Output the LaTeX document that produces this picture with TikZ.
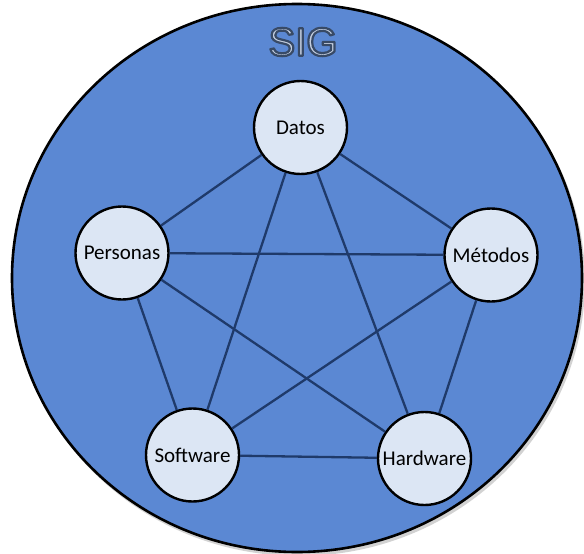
\documentclass[tikz,border=0pt]{standalone}
\usepackage{fontspec}
\setmainfont{Carlito}
\newfontfamily\sigfont{Liberation Sans}
\definecolor{bigfill}{HTML}{5B88D3}
\definecolor{nodefill}{HTML}{DCE6F4}
\definecolor{linkcol}{HTML}{1F3A6A}
\definecolor{siglight}{HTML}{C4CEDF}
\tikzset{
  comp/.style={circle, draw=black, line width=2.4pt, fill=nodefill,
    minimum size=93pt, inner sep=0pt, font=\fontsize{21}{24}\selectfont},
  link/.style={draw=linkcol, line width=2.3pt},
  outer/.style={draw=black, line width=2.6pt, fill=bigfill}
}
\newcommand{\outlinedtext}[1]{{\color{siglight}\special{pdf:literal 0.22 0.29 0.40 RG 2.2 w 1 j 2 Tr}#1\special{pdf:literal 0 Tr}}}
\begin{document}
\begin{tikzpicture}[x=1pt,y=-1pt]
\useasboundingbox (0,0) rectangle (584,554);
\fill[black!35, opacity=0.5] (299,281) ellipse [x radius=286pt, y radius=275pt];
\draw[outer] (297,278) ellipse [x radius=285pt, y radius=274pt];
\node[font=\sigfont\fontsize{40}{44}\selectfont] (sig) at (303,42) {\outlinedtext{SIG}};
\node[comp] (dat) at (300.5,127.5) {Datos};
\node[comp] (per) at (122,253) {Personas};
\node[comp] (met) at (491,255) {Métodos};
\node[comp] (sof) at (192.5,455) {Software};
\node[comp] (har) at (424.5,458.5) {Hardware};
\path[link] (dat) -- (per);
\path[link] (dat) -- (met);
\path[link] (dat) -- (sof);
\path[link] (dat) -- (har);
\path[link] (per) -- (met);
\path[link] (per) -- (sof);
\path[link] (per) -- (har);
\path[link] (met) -- (sof);
\path[link] (met) -- (har);
\path[link] (sof) -- (har);
\end{tikzpicture}
\end{document}
